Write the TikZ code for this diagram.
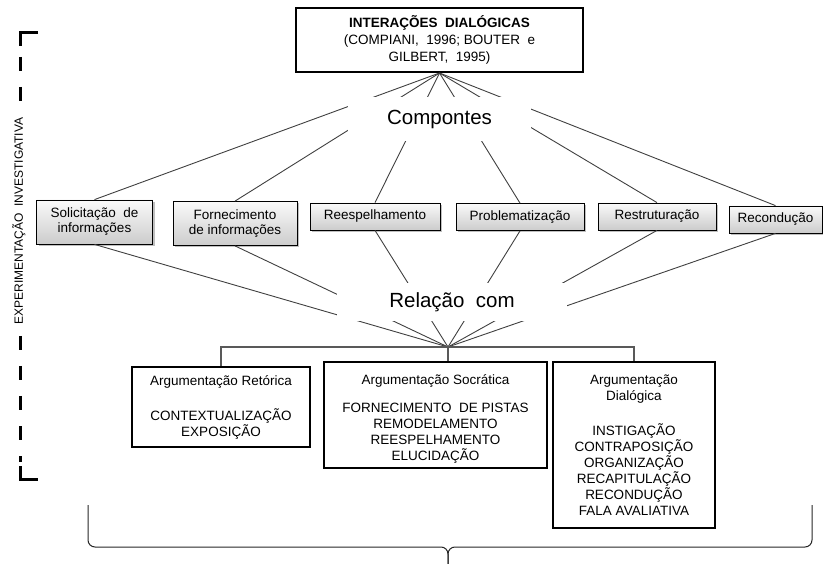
\documentclass[tikz,border=0pt]{standalone}
\usepackage{fontspec}
\setmainfont{Liberation Sans}
\usetikzlibrary{shadows}
\begin{document}
\begin{tikzpicture}[x=1pt,y=-1pt,
	comp/.style={draw=black,line width=0.8pt,top color=gray!4,bottom color=gray!40,drop shadow={shadow xshift=2pt,shadow yshift=-2pt,opacity=0.5},align=center,inner sep=0pt,font=\fontsize{13.5}{15}\selectfont},
	arg/.style={draw=black,line width=2.4pt,align=center,inner sep=0pt,font=\fontsize{13.5}{16}\selectfont},
	conn/.style={draw=black!75,line width=0.9pt},
	gap/.style={fill=white,inner sep=0pt,font=\fontsize{20.5}{24}\selectfont},
	bracket/.style={line width=3pt,dash pattern=on 14pt off 16pt},
	braceline/.style={line width=1pt,draw=black!85,rounded corners=7pt}]
	\useasboundingbox (0,0) rectangle (823,564);

	\node[arg,line width=2pt,minimum width=287,minimum height=64,font=\fontsize{13.5}{17}\selectfont] (top) at (439.5,40) {\textbf{INTERAÇÕES\ \ DIALÓGICAS}\\(COMPIANI,\ \ 1996; BOUTER\ \ e\\GILBERT,\ \ 1995)};

	\node[comp,minimum width=116,minimum height=44] (sol) at (94.5,222) {Solicitação\ \ de\\informações};
	\node[comp,minimum width=124,minimum height=44] (for) at (235,223.5) {Fornecimento\\de informações};
	\node[comp,minimum width=130,minimum height=27] (ree) at (375,216.5) {Reespelhamento};
	\node[comp,minimum width=128,minimum height=27] (pro) at (520,217) {Problematização};
	\node[comp,minimum width=118,minimum height=27] (res) at (657,216.5) {Restruturação};
	\node[comp,minimum width=93,minimum height=27] (rec) at (775.5,219.5) {Recondução};

	\coordinate (hub) at (448,347);

	\node[arg,minimum width=178,minimum height=80] (ret) at (221,407) {Argumentação Retórica\\[19pt]CONTEXTUALIZAÇÃO\\EXPOSIÇÃO};
	\node[arg,minimum width=223,minimum height=106] (soc) at (435.5,415) {\rule{0pt}{18pt}Argumentação Socrática\\[12pt]FORNECIMENTO\ \ DE PISTAS\\REMODELAMENTO\\REESPELHAMENTO\\ELUCIDAÇÃO};
	\node[arg,minimum width=162,minimum height=166] (dia) at (634,445) {Argumentação\\Dialógica\\[19pt]INSTIGAÇÃO\\CONTRAPOSIÇÃO\\ORGANIZAÇÃO\\RECAPITULAÇÃO\\RECONDUÇÃO\\FALA AVALIATIVA};

	\draw[conn] (top.south) -- (sol.north);
	\draw[conn] (top.south) -- (for.north);
	\draw[conn] (top.south) -- (ree.north);
	\draw[conn] (top.south) -- (pro.north);
	\draw[conn] (top.south) -- (res.north);
	\draw[conn] (top.south) -- (rec.north);

	\draw[conn] (sol.south) -- (hub);
	\draw[conn] (for.south) -- (hub);
	\draw[conn] (ree.south) -- (hub);
	\draw[conn] (pro.south) -- (hub);
	\draw[conn] (res.south) -- (hub);
	\draw[conn] (rec.south) -- (hub);

	\node[gap,minimum width=183,minimum height=44] (compo) at (439.5,119) {Compontes};
	\node[gap,minimum width=230,minimum height=38] (rel) at (452,302) {Relação\ \ com};

	\draw[conn,draw=black!65,line width=1.3pt] (ret.north) -- (ret.north |- hub) -- (dia.north |- hub) -- (dia.north);
	\draw[conn,draw=black!65,line width=1.3pt] (hub) -- (hub |- soc.north);

	\coordinate (bl) at (88,505);
	\coordinate (br) at (812,505);
	\coordinate (tip) at (448,564);
	\draw[braceline] (bl) -- (bl |- 0,547) -- (tip |- 0,547) -- (tip);
	\draw[braceline] (br) -- (br |- 0,547) -- (tip |- 0,547) -- (tip);

	\node[rotate=90,inner sep=0pt,font=\fontsize{12}{14}\selectfont] (exp) at (19,221) {EXPERIMENTAÇÃO\ \ INVESTIGATIVA};
	\draw[line width=3pt] (38,33) -- (20,33) -- (20,46);
	\draw[bracket] (20,57) -- (20,112);
	\draw[bracket] (20,336) -- (20,462);
	\draw[line width=3pt] (20,466) -- (20,479) -- (38,479);
\end{tikzpicture}
\end{document}
